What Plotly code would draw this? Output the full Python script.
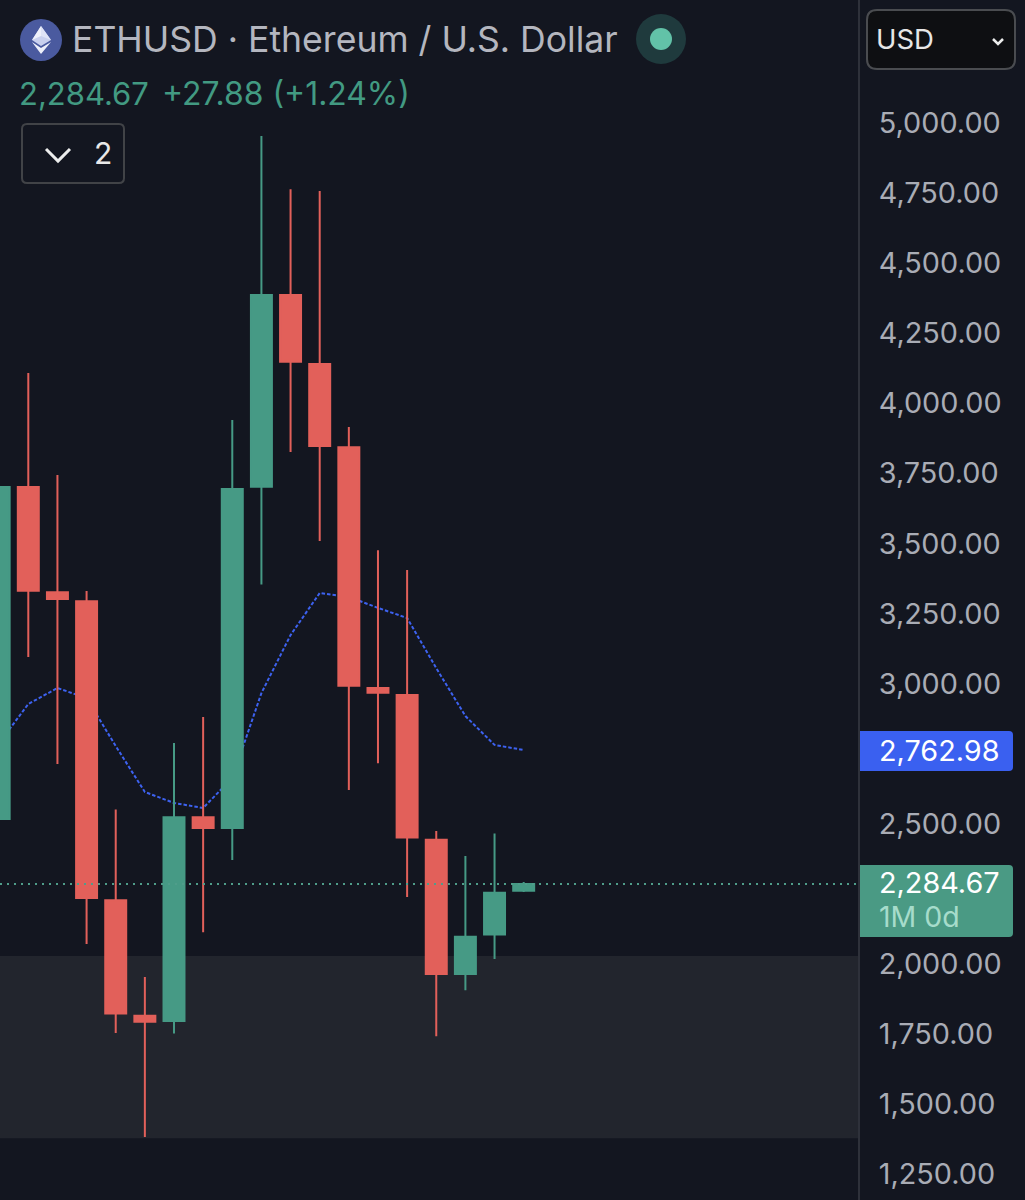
import plotly.graph_objects as go

W, H = 1025, 1200
FONT = "Inter"
BG = "#131620"
UP, DOWN = "#469a85", "#e2605a"

months = ["2024-11","2024-12","2025-01","2025-02","2025-03","2025-04","2025-05","2025-06","2025-07","2025-08",
          "2025-09","2025-10","2025-11","2025-12","2026-01","2026-02","2026-03","2026-04","2026-05"]
opens  = [2517,3701,3326,3294,2227,1815,1796,2523,2485,3702,4386,4140,3843,2984,2959,2443,1964,2105,2261]
highs  = [3701,4108,3744,3330,2551,1953,2788,2881,3940,4954,4764,4757,3915,3476,3405,2474,2385,2465,2292]
lows   = [2517,3095,2713,2071,1753,1382,1751,2113,2370,3353,3826,3509,2620,2716,2238,1742,1906,2017,2256]
closes = [3701,3331,3302,2235,1823,1793,2523,2485,3694,4386,4148,3848,2992,2967,2451,1964,2097,2254,2284.67]
ma     = [2788,2927,2984,2948,2777,2613,2574,2556,2663,2966,3173,3323,3309,3270,3234,3055,2884,2781,2762.98]

tick_vals = [5000,4750,4500,4250,4000,3750,3500,3250,3000,2500,2000,1750,1500,1250]
tick_text = ["5,000.00","4,750.00","4,500.00","4,250.00","4,000.00","3,750.00","3,500.00","3,250.00",
             "3,000.00","2,500.00","2,000.00","1,750.00","1,500.00","1,250.00"]
last_price = 2284.67
ma_last = 2762.98
zone = [1378, 2028]
y_range = [1157.3, 5438.9]
x_range = [0.0288, 29.473]

PANEL = 858 / W
def fx(x): return x / W
def fy(y): return 1 - y / H

def poly(points):
    return "M" + " L".join(f"{fx(x):.5f},{fy(y):.5f}" for x, y in points) + " Z"

def rrect(x0, y0, x1, y1, rl, rr):
    p = [f"M{fx(x0+rl):.5f},{fy(y0):.5f}", f"L{fx(x1-rr):.5f},{fy(y0):.5f}",
         f"Q{fx(x1):.5f},{fy(y0):.5f} {fx(x1):.5f},{fy(y0+rr):.5f}", f"L{fx(x1):.5f},{fy(y1-rr):.5f}",
         f"Q{fx(x1):.5f},{fy(y1):.5f} {fx(x1-rr):.5f},{fy(y1):.5f}", f"L{fx(x0+rl):.5f},{fy(y1):.5f}",
         f"Q{fx(x0):.5f},{fy(y1):.5f} {fx(x0):.5f},{fy(y1-rl):.5f}", f"L{fx(x0):.5f},{fy(y0+rl):.5f}",
         f"Q{fx(x0):.5f},{fy(y0):.5f} {fx(x0+rl):.5f},{fy(y0):.5f}", "Z"]
    return " ".join(p)

def shape_path(path, fill="rgba(0,0,0,0)", line=None, lw=0):
    return dict(type="path", xref="paper", yref="paper", path=path, fillcolor=fill, layer="above",
                line=dict(color=line or "rgba(0,0,0,0)", width=lw))

def circle(cx, cy, r, fill):
    return dict(type="circle", xref="paper", yref="paper", layer="above", x0=fx(cx-r), x1=fx(cx+r),
                y0=fy(cy+r), y1=fy(cy-r), fillcolor=fill, line=dict(width=0))

def label(x, y, text, size, color, anchor="left"):
    return dict(xref="paper", yref="paper", x=fx(x), y=fy(y), text=text, showarrow=False, xanchor=anchor,
                yanchor="middle", borderpad=0, font=dict(family=FONT, size=size, color=color))

fig = go.Figure()
fig.add_trace(go.Scatter(x=months, y=ma, mode="lines", xaxis="x", yaxis="y", showlegend=False,
                         line=dict(color="#3d62f0", width=2, dash="3.5px,2px")))
fig.add_trace(go.Candlestick(x=months, open=opens, high=highs, low=lows, close=closes, xaxis="x2", yaxis="y2",
                             showlegend=False, whiskerwidth=0,
                             increasing=dict(line=dict(color=UP, width=2), fillcolor=UP),
                             decreasing=dict(line=dict(color=DOWN, width=2), fillcolor=DOWN)))

shapes = [
    dict(type="rect", xref="x domain", yref="y", x0=0, x1=1, y0=zone[0], y1=zone[1], fillcolor="#22252d",
         line=dict(width=0), layer="below"),
    dict(type="line", xref="x domain", yref="y", x0=0, x1=1, y0=last_price, y1=last_price, layer="above",
         line=dict(color="#4f9d8a", width=2, dash="2px,5px")),
    circle(41, 40, 21, "#4a5a9f"),
    shape_path(poly([(41,26),(51,40),(41,46),(32,40)]), "#c9d0ee"),
    shape_path(poly([(41,26),(32,40),(41,36)]), "#eef0fa"),
    shape_path(poly([(41,26),(51,40),(41,36)]), "#dfe3f6"),
    shape_path(poly([(32,42),(41,54),(51,42),(41,48)]), "#eef0fa"),
    circle(661, 39, 25, "#1f3a3d"),
    circle(661, 39, 11, "#62c2a8"),
    shape_path(rrect(22, 124, 124, 183, 5, 5), BG, "#414347", 2),
    shape_path("M" + " L".join(f"{fx(x):.5f},{fy(y):.5f}" for x, y in [(46,149),(58,161),(70,149)]),
               "rgba(0,0,0,0)", "#eceded", 3),
    shape_path(rrect(867, 10, 1015, 69, 10, 10), "#0e0f12", "#4a4c50", 2),
    shape_path("M" + " L".join(f"{fx(x):.5f},{fy(y):.5f}" for x, y in [(993,39),(998,44),(1003,39)]),
               "rgba(0,0,0,0)", "#eceded", 2.5),
    shape_path(rrect(860, 731, 1013, 771, 0, 4), "#3a60f0"),
    shape_path(rrect(860, 865, 1013, 937, 0, 4), "#4a9a84"),
]

annotations = [
    label(71, 40, "ETHUSD · Ethereum / U.S. Dollar", 35.6, "#b4b6bf"),
    label(18, 93, "2,284.67", 31, "#429a82"),
    label(161, 93, "+27.88 (+1.24%)", 31.9, "#429a82"),
    label(93, 153, "2", 30, "#e8e8e8"),
    label(875, 39, "USD", 27.5, "#e6e6e6"),
    label(878, 750, "2,762.98", 28.8, "#ffffff"),
    label(878, 882, "2,284.67", 28.8, "#ffffff"),
    label(878, 916, "1M 0d", 28.5, "#a6dccb"),
]

fig.update_layout(
    width=W, height=H, margin=dict(l=0, r=0, t=0, b=0), paper_bgcolor=BG, plot_bgcolor=BG,
    showlegend=False, boxgap=0.28, boxgroupgap=0, boxmode="overlay", shapes=shapes, annotations=annotations,
    xaxis=dict(domain=[0, PANEL], range=x_range, type="category", categoryorder="array", categoryarray=months,
               showgrid=False, zeroline=False, showticklabels=False, ticks="", rangeslider=dict(visible=False)),
    xaxis2=dict(overlaying="x", domain=[0, PANEL], range=x_range, type="category", categoryorder="array",
                categoryarray=months, visible=False, rangeslider=dict(visible=False)),
    yaxis=dict(domain=[0, 1], range=y_range, side="right", tickmode="array", tickvals=tick_vals, ticktext=tick_text,
               showgrid=False, zeroline=False, ticks="", ticklabelstandoff=13, showline=True, linecolor="#2e313a",
               linewidth=2, tickfont=dict(family=FONT, size=28.8, color="#a9acb5")),
    yaxis2=dict(overlaying="y", range=y_range, visible=False),
)

fig.write_html("out.html", config=dict(displayModeBar=False),
               post_script="document.body.style.margin='0';document.body.style.background='#131620';")
